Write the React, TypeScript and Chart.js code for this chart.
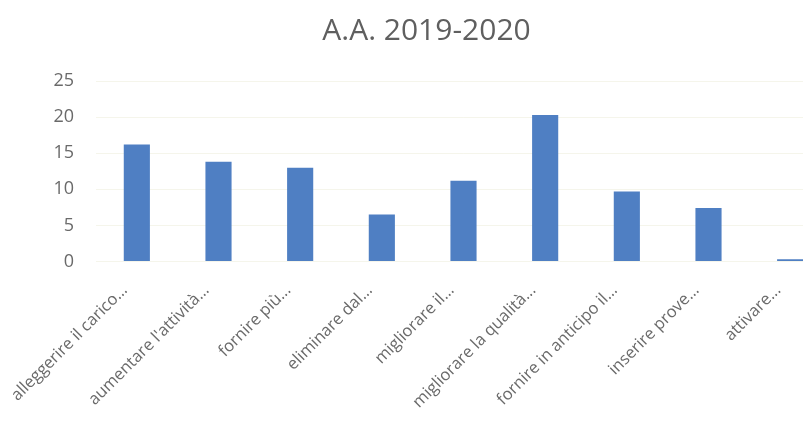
import React, { useEffect, useRef } from "react";
import { Chart, registerables } from "chart.js";

Chart.register(...registerables);

const categories: string[] = [
  "alleggerire il carico...",
  "aumentare l'attività...",
  "fornire più...",
  "eliminare dal...",
  "migliorare il...",
  "migliorare la qualità...",
  "fornire in anticipo il...",
  "inserire prove...",
  "attivare...",
];

const values: number[] = [16.2, 13.8, 13.0, 6.5, 11.2, 20.3, 9.7, 7.4, 0.3];

const yTicks: number[] = [0, 5, 10, 15, 20, 25];

const chartTitle = "A.A. 2019-2020";

export default function App() {
  const canvasRef = useRef<HTMLCanvasElement | null>(null);

  useEffect(() => {
    const canvas = canvasRef.current;
    if (!canvas) return;
    const chart = new Chart(canvas, {
      type: "bar",
      data: {
        labels: categories,
        datasets: [
          {
            label: chartTitle,
            data: values,
            backgroundColor: "#4F7FC3",
            borderWidth: 0,
            categoryPercentage: 0.8,
            barPercentage: 0.4,
          },
        ],
      },
      options: {
        responsive: false,
        animation: false,
        layout: { padding: { left: 22, right: 19, top: 0, bottom: 0 } },
        plugins: {
          legend: { display: false },
          tooltip: { enabled: false },
          title: {
            display: true,
            text: chartTitle,
            color: "#5f5f5f",
            font: { family: "'Open Sans'", size: 30, weight: "normal" },
            padding: { top: 13, bottom: 32 },
          },
        },
        scales: {
          x: {
            afterFit: (axis: any) => {
              axis.height = 163.5;
              axis.paddingLeft = 0;
              axis.paddingRight = 0;
            },
            grid: { display: false, drawTicks: false },
            border: { display: false },
            ticks: {
              color: "#6a6a6a",
              font: { family: "'Open Sans'", size: 16.5 },
              maxRotation: 45,
              minRotation: 45,
              autoSkip: false,
              padding: 19,
              labelOffset: -12,
            },
          },
          y: {
            min: 0,
            max: 25,
            afterBuildTicks: (axis: any) => {
              axis.ticks = yTicks.map((v) => ({ value: v }));
            },
            afterFit: (axis: any) => {
              axis.width = 74;
            },
            grid: { color: "rgba(235,235,215,0.5)", drawTicks: false },
            border: { display: false },
            ticks: {
              color: "#6a6a6a",
              font: { family: "'Open Sans'", size: 18 },
              padding: 22,
            },
          },
        },
      },
    });
    return () => chart.destroy();
  }, []);

  return (
    <div
      style={{
        position: "fixed",
        left: 0,
        top: 0,
        width: 803,
        height: 425,
        overflow: "hidden",
        background: "#ffffff",
      }}
    >
      <canvas ref={canvasRef} width={850} height={425} style={{ display: "block" }} />
    </div>
  );
}
